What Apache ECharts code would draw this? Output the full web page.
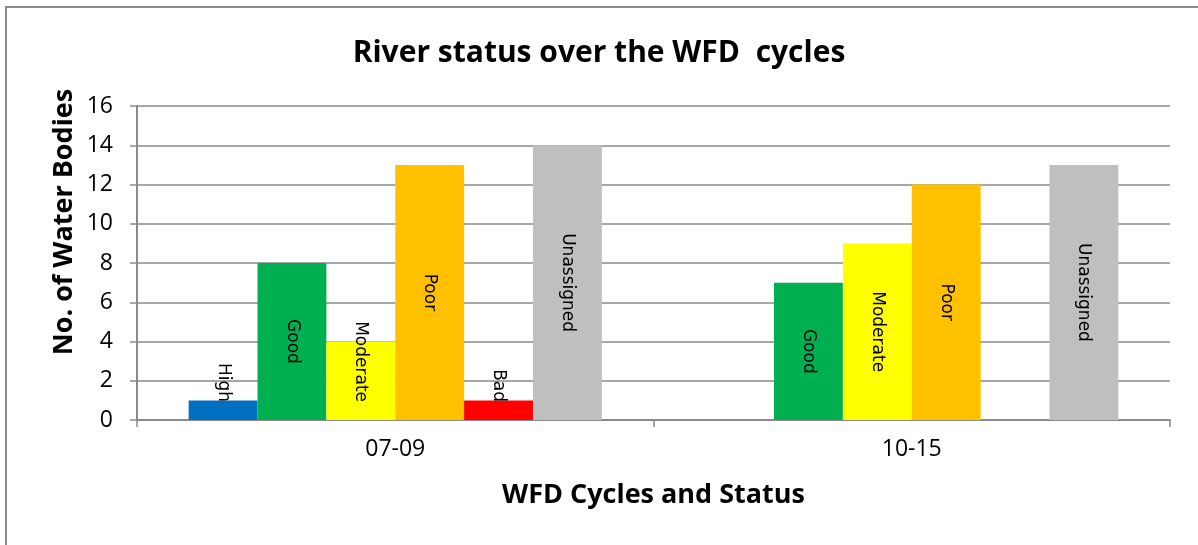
<!DOCTYPE html>
<html>
<head>
<meta charset="utf-8">
<script src="https://cdn.jsdelivr.net/npm/echarts@6/dist/echarts.min.js"></script>
<style>
html,body{margin:0;padding:0;background:#fff;}
#chart{width:1198px;height:545px;}
</style>
</head>
<body>
<div id="chart"></div>
<script>
var categories = ['07-09', '10-15'];
var statusNames = ['High', 'Good', 'Moderate', 'Poor', 'Bad', 'Unassigned'];
var highValues = [1, 0];
var goodValues = [8, 7];
var moderateValues = [4, 9];
var poorValues = [13, 12];
var badValues = [1, 0];
var unassignedValues = [14, 13];
var yTicks = [0, 2, 4, 6, 8, 10, 12, 14, 16];

var seriesValues = [highValues, goodValues, moderateValues, poorValues, badValues, unassignedValues];
var colors = ['#0070C0', '#00B050', '#FFFF00', '#FFC000', '#FF0000', '#BFBFBF'];

var chart = echarts.init(document.getElementById('chart'), null, {renderer: 'canvas'});

var series = statusNames.map(function (name, i) {
  return {
    name: name,
    type: 'bar',
    data: seriesValues[i].map(function (v) { return v === 0 ? null : v; }),
    barGap: '0%',
    barCategoryGap: '20%',
    itemStyle: {color: colors[i]},
    label: {
      show: true,
      position: 'inside',
      rotate: -90,
      formatter: '{a}',
      color: '#000',
      fontFamily: 'DejaVu Sans',
      fontSize: 17
    },
    labelLayout: function (p) {
      var bottomLimit = p.rect.y + p.rect.height - 18;
      var lb = p.labelRect.y + p.labelRect.height;
      if (lb > bottomLimit) {
        return {dx: -(lb - bottomLimit)};
      }
      return {};
    }
  };
});

var option = {
  backgroundColor: '#fff',
  animation: false,
  title: {
    text: 'River status over the WFD  cycles',
    left: 'center',
    top: 33,
    textStyle: {fontFamily: 'Open Sans', fontWeight: 'bold', fontSize: 30, color: '#000'}
  },
  graphic: [{
    type: 'rect',
    shape: {x: 6, y: 7, width: 1300, height: 700},
    style: {fill: null, stroke: '#8a8a8a', lineWidth: 2},
    silent: true
  }, {
    type: 'text',
    x: 64,
    y: 222,
    rotation: Math.PI / 2,
    style: {
      text: 'No. of Water Bodies',
      fontFamily: 'Open Sans',
      fontWeight: 'bold',
      fontSize: 27,
      fill: '#000',
      align: 'center',
      verticalAlign: 'middle'
    },
    silent: true
  }],
  grid: {left: 137, right: 28, top: 106, bottom: 125},
  xAxis: {
    type: 'category',
    data: categories,
    name: 'WFD Cycles and Status',
    nameLocation: 'middle',
    nameGap: 62,
    nameTextStyle: {fontFamily: 'Open Sans', fontWeight: 'bold', fontSize: 27, color: '#000'},
    axisLine: {lineStyle: {color: '#8a8a8a', width: 2}},
    axisTick: {show: true, length: 7, lineStyle: {color: '#8a8a8a', width: 1.5}},
    axisLabel: {fontFamily: 'Open Sans', fontSize: 23, color: '#000', margin: 18}
  },
  yAxis: {
    type: 'value',
    min: 0,
    max: 16,
    interval: 2,
    axisLine: {show: true, lineStyle: {color: '#8a8a8a', width: 2}},
    axisTick: {show: true, length: 7, lineStyle: {color: '#8a8a8a', width: 1.5}},
    splitLine: {lineStyle: {color: '#8a8a8a', width: 1.5}},
    axisLabel: {
      fontFamily: 'Open Sans', fontSize: 23, color: '#000', margin: 24,
      formatter: function (v) { return yTicks.indexOf(v) >= 0 ? String(v) : ''; }
    }
  },
  series: series
};
chart.setOption(option);
</script>
</body>
</html>
